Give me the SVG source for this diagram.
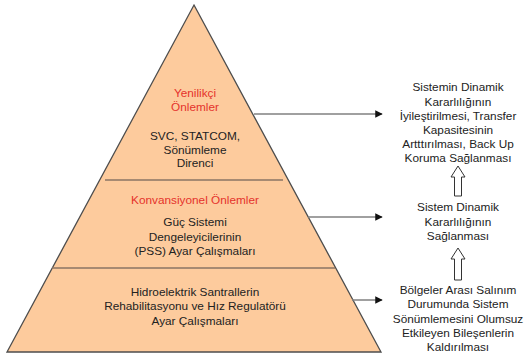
<svg xmlns="http://www.w3.org/2000/svg" width="525" height="353" viewBox="0 0 525 353">
<defs>
<style>
text{font-family:"Liberation Sans",Arial,sans-serif;font-size:11.8px;fill:#222;text-anchor:middle}
.red{fill:#e5322b}
.div{stroke:#8a7464;stroke-width:1.5;fill:none}
.conn{stroke:#808080;stroke-width:1.5;fill:none}
.hollow{fill:#fff;stroke:#333;stroke-width:1}
</style>
<marker id="ah" viewBox="0 0 10 10" refX="9" refY="5" markerWidth="5" markerHeight="5" orient="auto" markerUnits="strokeWidth">
<path d="M0,0 L10,5 L0,10 z" fill="#111"/>
</marker>
</defs>
<rect width="525" height="353" fill="#fff"/>
<g id="pyramid">
<polygon points="194,5 381,352 7,352" fill="#fdcb9d" stroke="#4d4d4d" stroke-width="1.3"/>
<line class="div" x1="105" y1="180" x2="283" y2="180"/>
<line class="div" x1="52" y1="268" x2="335" y2="268"/>
</g>
<g id="level-top">
<text class="red" x="195" y="97">Yenilikçi</text>
<text class="red" x="195" y="111">Önlemler</text>
<text x="195" y="140">SVC, STATCOM,</text>
<text x="195" y="153.5">Sönümleme</text>
<text x="195" y="167">Direnci</text>
</g>
<g id="level-middle">
<text class="red" x="195" y="203.5">Konvansiyonel Önlemler</text>
<text x="195" y="226">Güç Sistemi</text>
<text x="195" y="240.5">Dengeleyicilerinin</text>
<text x="195" y="255">(PSS) Ayar Çalışmaları</text>
</g>
<g id="level-bottom">
<text x="195" y="295.5">Hidroelektrik Santrallerin</text>
<text x="195" y="310">Rehabilitasyonu ve Hız Regulatörü</text>
<text x="195" y="324.5">Ayar Çalışmaları</text>
</g>
<g id="result-top">
<text x="458" y="91">Sistemin Dinamik</text>
<text x="458" y="105.5">Kararlılığının</text>
<text x="458" y="119.5">İyileştirilmesi, Transfer</text>
<text x="458" y="134">Kapasitesinin</text>
<text x="458" y="148">Artttırılması, Back Up</text>
<text x="458" y="162">Koruma Sağlanması</text>
</g>
<g id="result-middle">
<text x="458" y="211">Sistem Dinamik</text>
<text x="458" y="225.5">Kararlılığının</text>
<text x="458" y="240">Sağlanması</text>
</g>
<g id="result-bottom">
<text x="458" y="294">Bölgeler Arası Salınım</text>
<text x="458" y="308">Durumunda Sistem</text>
<text x="458" y="322.5">Sönümlemesini Olumsuz</text>
<text x="458" y="337">Etkileyen Bileşenlerin</text>
<text x="458" y="351">Kaldırılması</text>
</g>
<g id="connectors">
<line class="conn" x1="254" y1="114" x2="382" y2="114" marker-end="url(#ah)"/>
<line class="conn" x1="308" y1="217" x2="382" y2="217" marker-end="url(#ah)"/>
<line class="conn" x1="352" y1="300" x2="382" y2="300" marker-end="url(#ah)"/>
<polygon class="hollow" points="458,166 465,177 461.5,177 461.5,196 454.5,196 454.5,177 451,177"/>
<polygon class="hollow" points="458,248 465,259 461.5,259 461.5,280 454.5,280 454.5,259 451,259"/>
</g>
</svg>
